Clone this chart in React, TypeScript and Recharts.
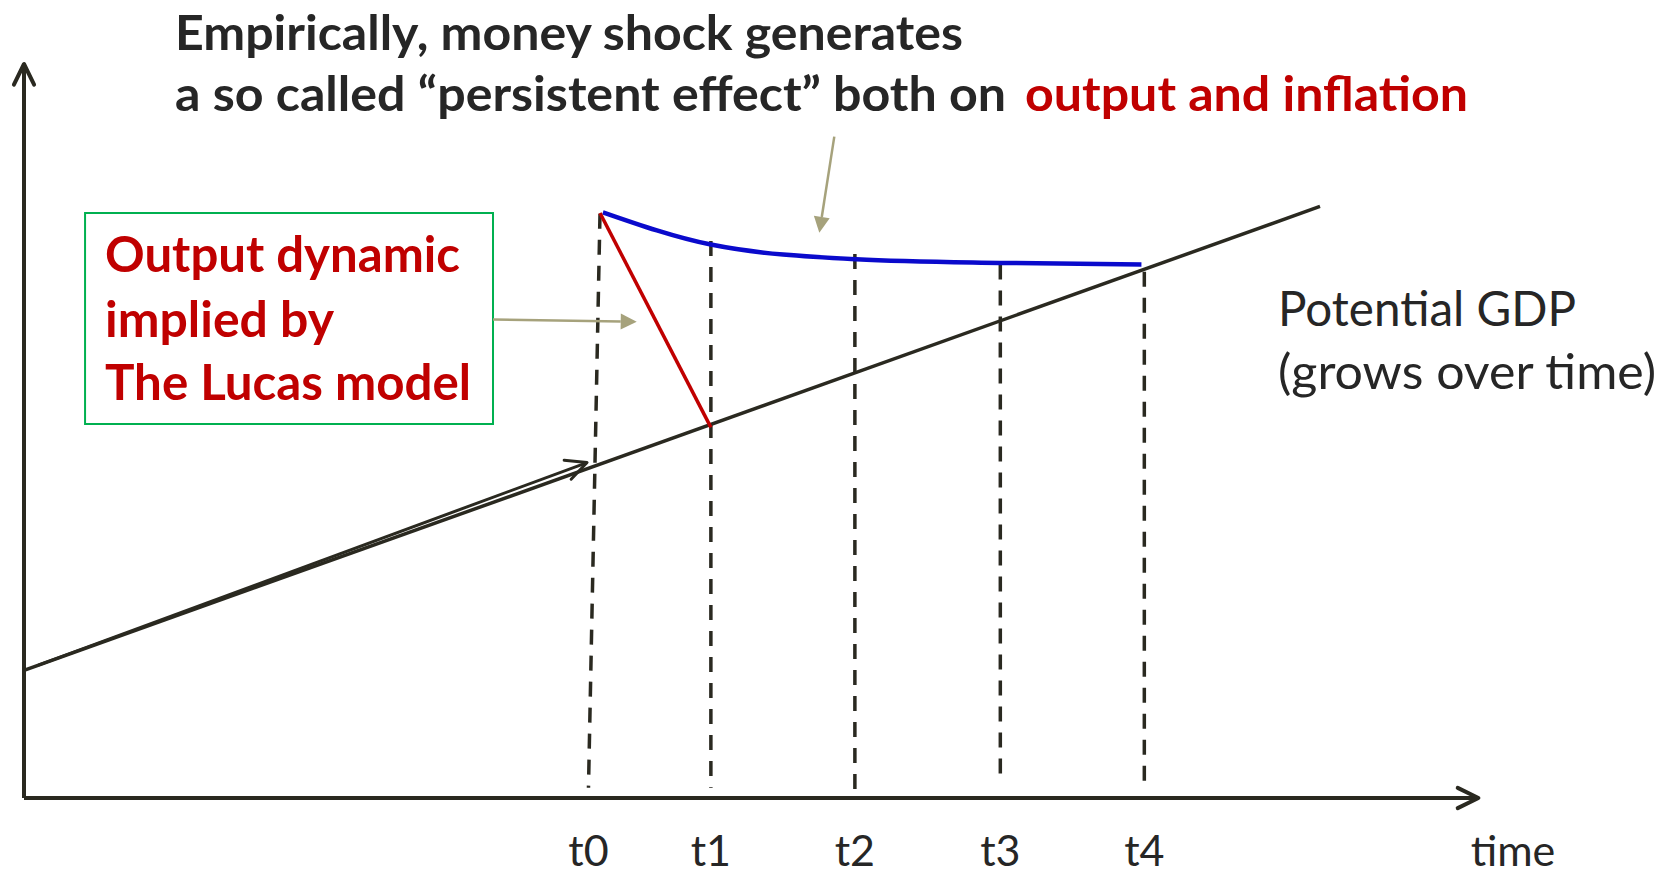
import { LineChart, Line, XAxis, YAxis, ReferenceLine, ReferenceArea } from "recharts";

// time positions of the dashed guides (x units) and their labels
const periodLabels = ["t0", "t1", "t2", "t3", "t4"];
const periodTicks = [3.92, 4.77, 5.77, 6.78, 7.78];
const axisLabel = "time";
const axisLabelX = 10.34;

// potential GDP (straight trend)
const potentialX = [0, 9];
const potentialY = [1.74, 8.06];

// empirical "persistent effect" path
const persistentX = [4.02, 4.77, 5.78, 6.78, 7.76];
const persistentY = [7.98, 7.54, 7.34, 7.29, 7.27];

// Lucas model path: jumps back to potential by t1
const lucasX = [4.0, 4.77];
const lucasY = [7.97, 5.05];

// dashed guides, top and bottom ends
const guideTopX = [4.0, 4.77, 5.77, 6.78, 7.78];
const guideTopY = [7.96, 7.59, 7.41, 7.27, 7.17];
const guideBottomX = [3.92, 4.77, 5.77, 6.78, 7.78];
const guideBottomY = [0.14, 0.14, 0.02, 0.2, 0.1];

const INK = "#2a2920";
const RED = "#c00000";
const KHAKI = "#a6a27c";

const toPoints = (xs: number[], ys: number[]) => xs.map((x, i) => ({ x, y: ys[i] }));

function arrowShape(kind: "open" | "filled", color: string, width: number) {
  return (p: any) => {
    const { x1, y1, x2, y2 } = p;
    const a = Math.atan2(y2 - y1, x2 - x1);
    if (kind === "filled") {
      const len = 16;
      const half = 8;
      const bx = x2 - len * Math.cos(a);
      const by = y2 - len * Math.sin(a);
      const nx = -Math.sin(a) * half;
      const ny = Math.cos(a) * half;
      return (
        <g>
          <line x1={x1} y1={y1} x2={bx} y2={by} stroke={color} strokeWidth={width} />
          <polygon points={`${x2},${y2} ${bx + nx},${by + ny} ${bx - nx},${by - ny}`} fill={color} />
        </g>
      );
    }
    const len = 23;
    const spread = (26 * Math.PI) / 180;
    const w1x = x2 - len * Math.cos(a - spread);
    const w1y = y2 - len * Math.sin(a - spread);
    const w2x = x2 - len * Math.cos(a + spread);
    const w2y = y2 - len * Math.sin(a + spread);
    return (
      <g>
        <line x1={x1} y1={y1} x2={x2} y2={y2} stroke={color} strokeWidth={width} />
        <polyline
          points={`${w1x},${w1y} ${x2},${y2} ${w2x},${w2y}`}
          fill="none"
          stroke={color}
          strokeWidth={width}
          strokeLinecap="round"
          strokeLinejoin="round"
        />
      </g>
    );
  };
}

const renderTick = (props: any) => {
  const { x, y, payload } = props;
  const i = periodTicks.indexOf(payload.value);
  const label = i >= 0 ? periodLabels[i] : axisLabel;
  return (
    <text x={x} y={y} textAnchor="middle" fontFamily="Lato" fontSize={43} fill="#262626">
      {label}
    </text>
  );
};

export default function App() {
  return (
    <div style={{ position: "absolute", left: 0, top: 0, width: 1672, height: 876, background: "#fff" }}>
      <LineChart width={1672} height={876} margin={{ top: 64, right: 121.6, bottom: 0, left: 24 }}>
        <XAxis
          type="number"
          dataKey="x"
          domain={[0, 10.6]}
          allowDataOverflow
          ticks={[...periodTicks, axisLabelX]}
          interval={0}
          axisLine={false}
          tickLine={false}
          tickSize={0}
          tickMargin={68}
          height={78}
          tick={renderTick}
        />
        <YAxis hide type="number" dataKey="y" domain={[0, 10]} allowDataOverflow />

        <ReferenceArea
          x1={0.424}
          x2={3.257}
          y1={5.095}
          y2={7.97}
          fill="#ffffff"
          fillOpacity={1}
          stroke="#00b050"
          strokeWidth={2}
          ifOverflow="visible"
        />

        {guideTopX.map((x, i) => (
          <Line
            key={periodLabels[i]}
            data={[
              { x, y: guideTopY[i] },
              { x: guideBottomX[i], y: guideBottomY[i] },
            ]}
            dataKey="y"
            type="linear"
            stroke={INK}
            strokeWidth={3.5}
            strokeDasharray="15 11"
            dot={false}
            activeDot={false}
            isAnimationActive={false}
          />
        ))}

        <Line
          data={toPoints(potentialX, potentialY)}
          dataKey="y"
          type="linear"
          stroke={INK}
          strokeWidth={3.5}
          dot={false}
          activeDot={false}
          isAnimationActive={false}
        />
        <Line
          data={toPoints(persistentX, persistentY)}
          dataKey="y"
          type="monotone"
          stroke="#0a0acc"
          strokeWidth={4.5}
          dot={false}
          activeDot={false}
          isAnimationActive={false}
        />
        <Line
          data={toPoints(lucasX, lucasY)}
          dataKey="y"
          type="linear"
          stroke={RED}
          strokeWidth={3.5}
          dot={false}
          activeDot={false}
          isAnimationActive={false}
        />

        {/* axes with arrow heads */}
        <ReferenceLine
          segment={[{ x: 0, y: 0 }, { x: 10.1, y: 0 }]}
          ifOverflow="visible"
          shape={arrowShape("open", INK, 4)}
        />
        <ReferenceLine
          segment={[{ x: 0, y: 0 }, { x: 0, y: 10 }]}
          ifOverflow="visible"
          shape={arrowShape("open", INK, 4)}
        />
        {/* growth-direction arrow along the trend */}
        <ReferenceLine
          segment={[{ x: 0.1, y: 1.81 }, { x: 3.91, y: 4.57 }]}
          ifOverflow="visible"
          shape={arrowShape("open", INK, 3)}
        />
        {/* annotation pointers */}
        <ReferenceLine
          segment={[{ x: 3.257, y: 6.52 }, { x: 4.255, y: 6.49 }]}
          ifOverflow="visible"
          shape={arrowShape("filled", KHAKI, 2.5)}
        />
        <ReferenceLine
          segment={[{ x: 5.627, y: 9.01 }, { x: 5.523, y: 7.7 }]}
          ifOverflow="visible"
          shape={arrowShape("filled", KHAKI, 2.5)}
        />
      </LineChart>

      <svg
        width={1672}
        height={876}
        style={{ position: "absolute", left: 0, top: 0, pointerEvents: "none" }}
        fontFamily="Lato"
      >
        <text x={175} y={50} fontSize={48} fontWeight={700} fill="#262626" textLength={788} lengthAdjust="spacingAndGlyphs">
          Empirically, money shock generates
        </text>
        <text x={175} y={111} fontSize={48} fontWeight={700} fill="#262626" textLength={831} lengthAdjust="spacingAndGlyphs">
          a so called “persistent effect” both on
        </text>
        <text x={1025} y={111} fontSize={48} fontWeight={700} fill={RED} textLength={443} lengthAdjust="spacingAndGlyphs">
          output and inflation
        </text>

        <text x={105} y={272} fontSize={50} fontWeight={700} fill={RED} textLength={355} lengthAdjust="spacingAndGlyphs">
          Output dynamic
        </text>
        <text x={105} y={337} fontSize={50} fontWeight={700} fill={RED} textLength={229} lengthAdjust="spacingAndGlyphs">
          implied by
        </text>
        <text x={105} y={400} fontSize={50} fontWeight={700} fill={RED} textLength={366} lengthAdjust="spacingAndGlyphs">
          The Lucas model
        </text>

        <text x={1278} y={326} fontSize={48} fill="#262626" textLength={298} lengthAdjust="spacingAndGlyphs">
          Potential GDP
        </text>
        <text x={1278} y={389} fontSize={48} fill="#262626" textLength={378} lengthAdjust="spacingAndGlyphs">
          (grows over time)
        </text>
      </svg>
    </div>
  );
}
